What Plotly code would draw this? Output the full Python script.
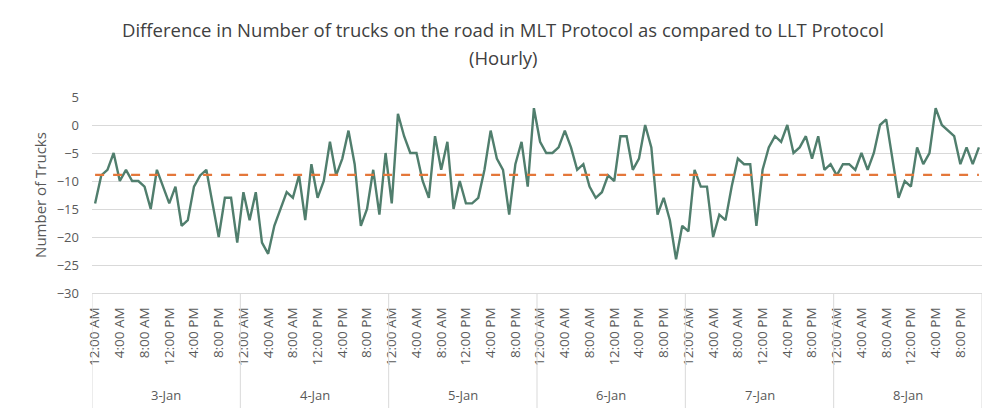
import plotly.graph_objects as go

# ---------------- data ----------------
days = ["3-Jan", "4-Jan", "5-Jan", "6-Jan", "7-Jan", "8-Jan"]
hour_labels = ["12:00 AM", "4:00 AM", "8:00 AM", "12:00 PM", "4:00 PM", "8:00 PM"]
label_every = 4  # hourly points, label every 4th hour

jan3 = [-14, -9, -8, -5, -10, -8, -10, -10, -11, -15, -8, -11,
        -14, -11, -18, -17, -11, -9, -8, -14, -20, -13, -13, -21]
jan4 = [-12, -17, -12, -21, -23, -18, -15, -12, -13, -9, -17, -7,
        -13, -10, -3, -9, -6, -1, -7, -18, -15, -8, -16, -5]
jan5 = [-14, 2, -2, -5, -5, -10, -13, -2, -8, -3, -15, -10,
        -14, -14, -13, -8, -1, -6, -8, -16, -7, -3, -11, 3]
jan6 = [-3, -5, -5, -4, -1, -4, -8, -7, -11, -13, -12, -9,
        -10, -2, -2, -8, -6, 0, -4, -16, -13, -17, -24, -18]
jan7 = [-19, -8, -11, -11, -20, -16, -17, -11, -6, -7, -7, -18,
        -8, -4, -2, -3, 0, -5, -4, -2, -6, -2, -8, -7]
jan8 = [-9, -7, -7, -8, -5, -8, -5, 0, 1, -6, -13, -10,
        -11, -4, -7, -5, 3, 0, -1, -2, -7, -4, -7, -4]

average_value = -8.9  # dashed reference line

title_lines = ["Difference in Number of trucks on the road in MLT Protocol as compared to LLT Protocol",
               "(Hourly)"]

# ---------------- build ----------------
values = jan3 + jan4 + jan5 + jan6 + jan7 + jan8
n = len(values)
per_day = len(jan3)
x_idx = list(range(n))

GRID = "#D9D9D9"
TEXT = "#595959"
FONT = "Open Sans"

fig = go.Figure()
fig.add_trace(go.Scatter(
    x=x_idx, y=values, mode="lines",
    line=dict(color="#507E6D", width=2.4),
    hoverinfo="y", showlegend=False))
fig.add_trace(go.Scatter(
    x=x_idx, y=[average_value] * n, mode="lines",
    line=dict(color="#E4773A", width=2.2, dash="dash"),
    showlegend=False))

tickvals = [d * per_day + h * label_every for d in range(len(days)) for h in range(len(hour_labels))]
ticktext = [hour_labels[h] for d in range(len(days)) for h in range(len(hour_labels))]

shapes = []
for d in range(len(days) + 1):
    shapes.append(dict(type="line", xref="x", yref="paper",
                       x0=d * per_day - 0.5, x1=d * per_day - 0.5, y0=0, y1=-0.6,
                       line=dict(color=GRID, width=1)))
# outer chart border (right edge visible)
shapes.append(dict(type="rect", xref="paper", yref="paper",
                   x0=-0.2, x1=1.0067, y0=-0.7, y1=1.6,
                   line=dict(color="#BFBFBF", width=1), fillcolor="rgba(0,0,0,0)", layer="below"))

annotations = []
for d, name in enumerate(days):
    annotations.append(dict(x=d * per_day + (per_day - 1) / 2, y=-0.52, xref="x", yref="paper",
                            text=name, showarrow=False, xanchor="center", yanchor="middle",
                            font=dict(family=FONT, size=13, color=TEXT)))
for text, ypos in zip(title_lines, [1.342, 1.199]):
    annotations.append(dict(x=0.4618, y=ypos, xref="paper", yref="paper", text=text,
                            showarrow=False, xanchor="center", yanchor="middle",
                            font=dict(family=FONT, size=18.5, color="#404040")))

# page body has an 8px default margin, so the figure is sized/offset to match
fig.update_layout(
    width=984, height=400,
    margin=dict(l=84, r=10, t=89, b=115),
    paper_bgcolor="white", plot_bgcolor="white",
    shapes=shapes, annotations=annotations,
    font=dict(family=FONT, color=TEXT),
)
fig.update_xaxes(range=[-0.5, n - 0.5], tickmode="array", tickvals=tickvals, ticktext=ticktext,
                 tickangle=-90, tickfont=dict(family=FONT, size=13.5, color=TEXT),
                 showgrid=False, zeroline=False, showline=True, linecolor=GRID, linewidth=1,
                 ticks="", ticklabelstandoff=8, automargin=False)
fig.update_yaxes(range=[-30, 5], dtick=5, tick0=0, showgrid=True, gridcolor=GRID, gridwidth=1,
                 zeroline=False, showline=False, ticks="",
                 tickfont=dict(family=FONT, size=13, color=TEXT), ticklabelstandoff=12,
                 title=dict(text="Number of Trucks", font=dict(family=FONT, size=15, color=TEXT), standoff=6),
                 automargin=False)

fig.write_html("out.html")
